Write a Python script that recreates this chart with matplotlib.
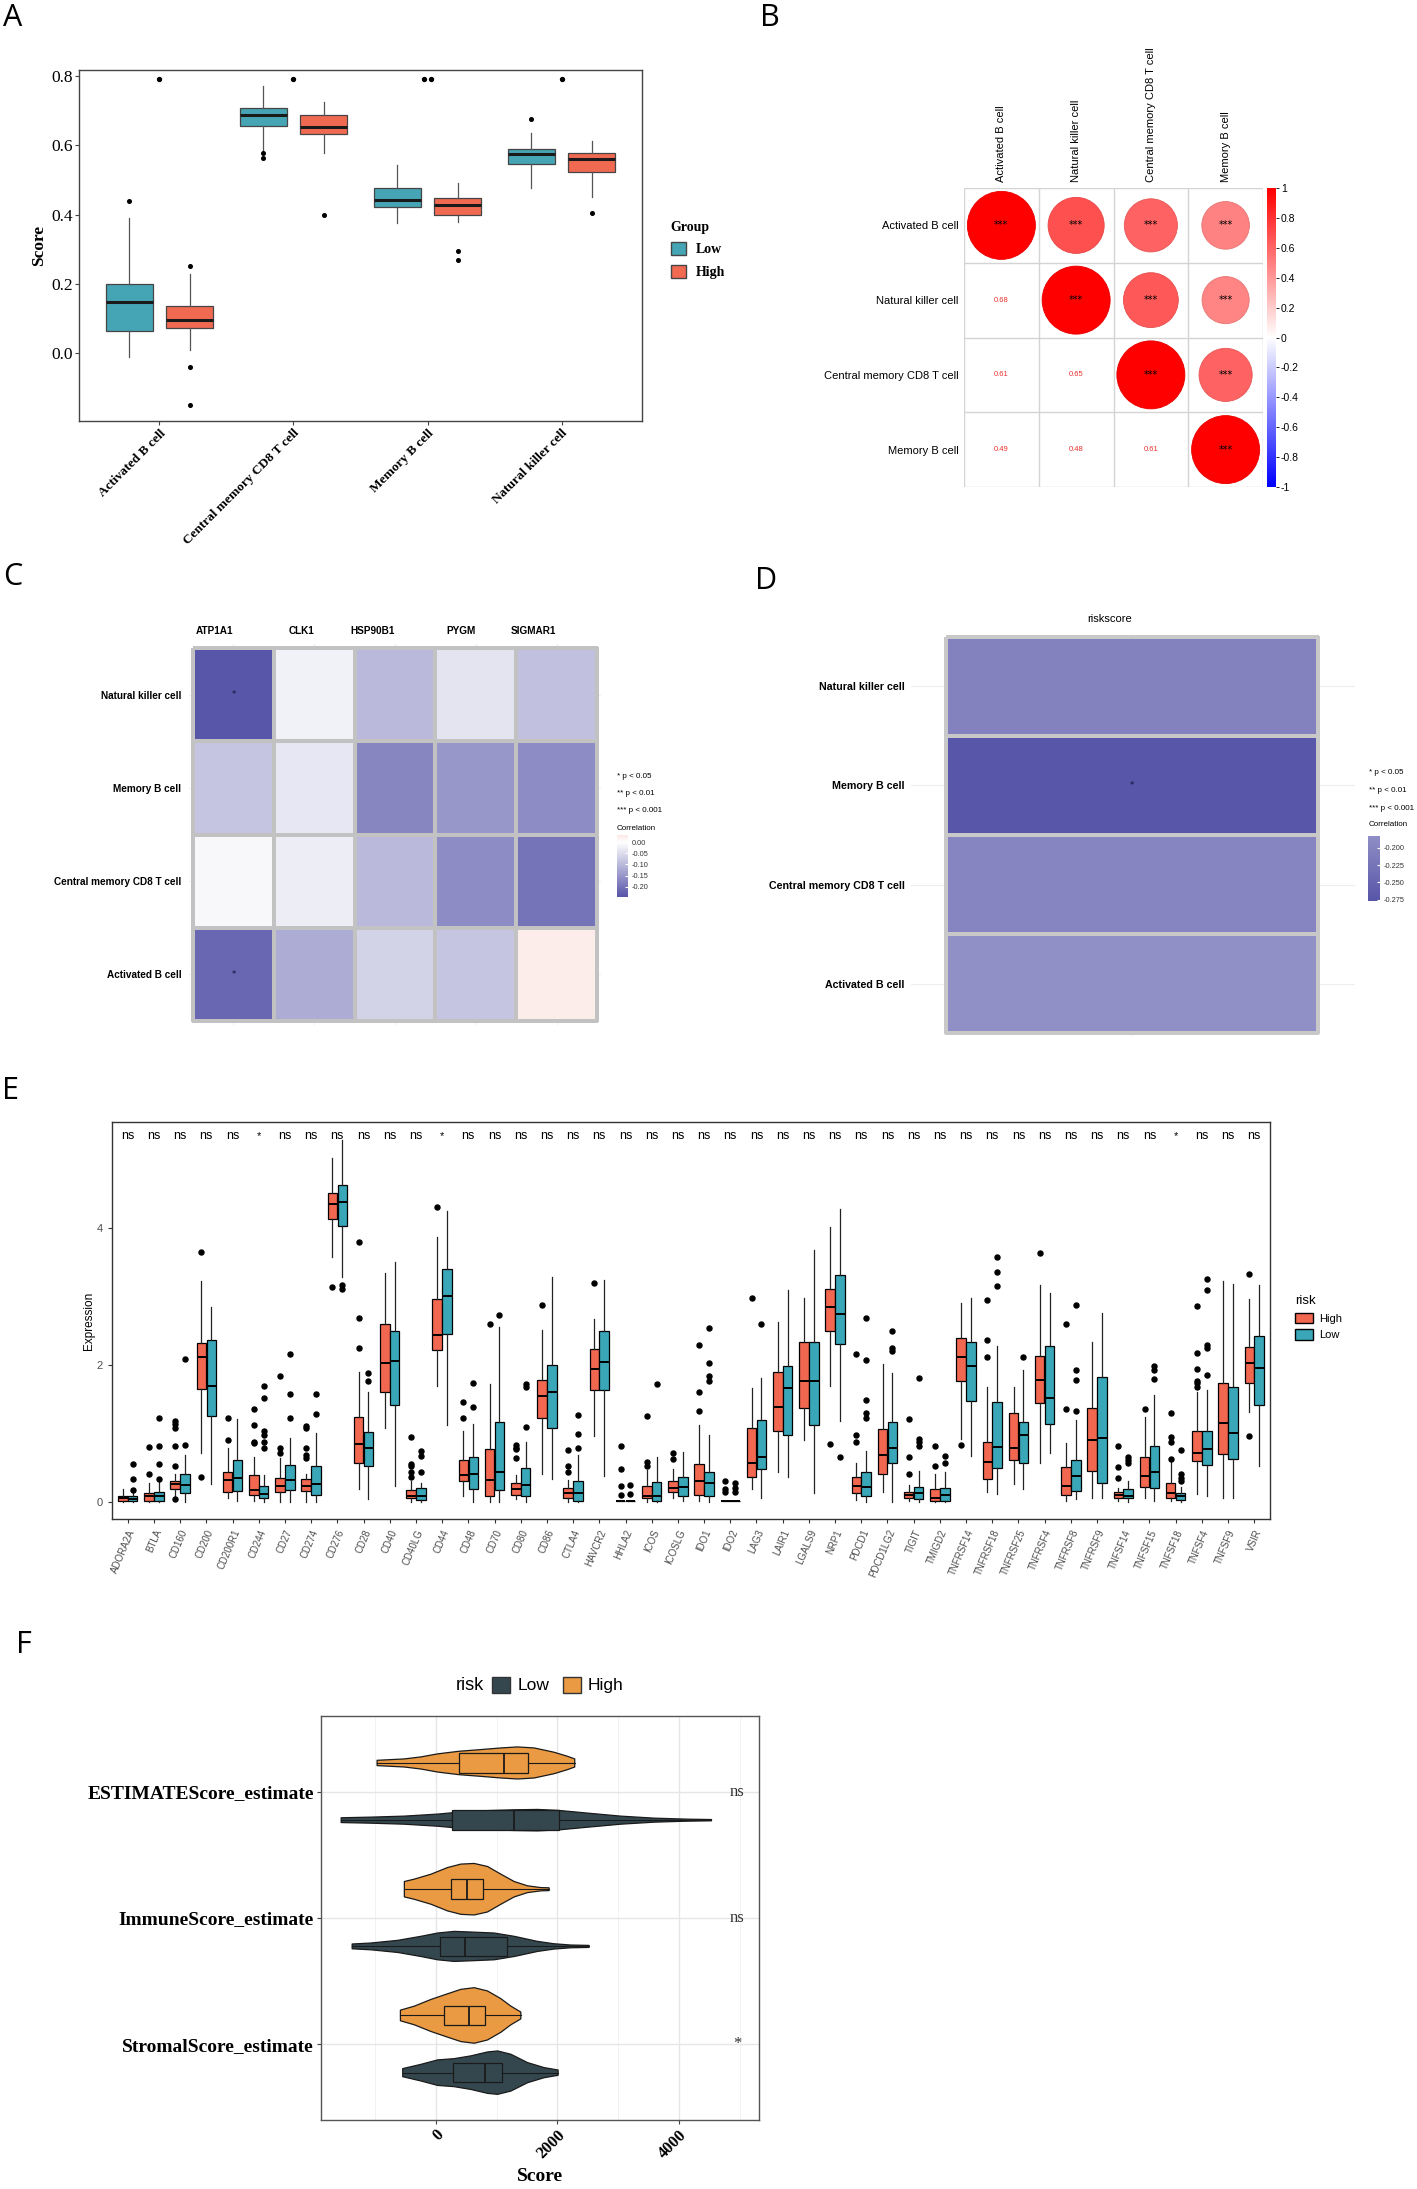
import numpy as np
import matplotlib
matplotlib.use("Agg")
import matplotlib.pyplot as plt
from matplotlib.patches import Ellipse, Patch
from matplotlib.colors import LinearSegmentedColormap, Normalize

# ------------------------------------------------------------------ data
# Panel A
cellsA = ["Activated B cell", "Central memory CD8 T cell", "Memory B cell", "Natural killer cell"]
A_low_lo = [-0.010, 0.582, 0.377, 0.476]
A_low_q1 = [0.064, 0.655, 0.423, 0.545]
A_low_med = [0.148, 0.687, 0.441, 0.574]
A_low_q3 = [0.200, 0.707, 0.476, 0.589]
A_low_hi = [0.389, 0.771, 0.543, 0.635]
A_low_out = [[0.439], [0.577, 0.562], [], [0.676]]
A_high_lo = [0.010, 0.577, 0.380, 0.452]
A_high_q1 = [0.073, 0.632, 0.399, 0.522]
A_high_med = [0.096, 0.654, 0.428, 0.559]
A_high_q3 = [0.137, 0.686, 0.448, 0.579]
A_high_hi = [0.229, 0.726, 0.492, 0.612]
A_high_out = [[0.253, -0.038, -0.149], [0.399], [0.294, 0.268], [0.404]]
A_top_marks = [1, 1, 2, 1]
A_top_value = 0.79

# Panel B
cellsB = ["Activated B cell", "Natural killer cell", "Central memory CD8 T cell", "Memory B cell"]
corrB = [[1.00, 0.68, 0.61, 0.49],
         [0.68, 1.00, 0.65, 0.48],
         [0.61, 0.65, 1.00, 0.61],
         [0.49, 0.48, 0.61, 1.00]]
sigB = "***"

# Panel C
genesC = ["ATP1A1", "CLK1", "HSP90B1", "PYGM", "SIGMAR1"]
cellsC = ["Natural killer cell", "Memory B cell", "Central memory CD8 T cell", "Activated B cell"]
corrC = [[-0.245, -0.020, -0.100, -0.040, -0.090],
         [-0.085, -0.035, -0.175, -0.150, -0.165],
         [-0.010, -0.025, -0.100, -0.165, -0.200],
         [-0.220, -0.120, -0.065, -0.085, 0.030]]
sigC = [["*", "", "", "", ""], ["", "", "", "", ""], ["", "", "", "", ""], ["*", "", "", "", ""]]

# Panel D
cellsD = ["Natural killer cell", "Memory B cell", "Central memory CD8 T cell", "Activated B cell"]
corrD = [-0.205, -0.277, -0.200, -0.183]
sigD = ["", "*", "", ""]
legend_p = ["* p < 0.05", "** p < 0.01", "*** p < 0.001"]

# Panel E
genesE = ["ADORA2A", "BTLA", "CD160", "CD200", "CD200R1", "CD244", "CD27", "CD274", "CD276", "CD28",
          "CD40", "CD40LG", "CD44", "CD48", "CD70", "CD80", "CD86", "CTLA4", "HAVCR2", "HHLA2",
          "ICOS", "ICOSLG", "IDO1", "IDO2", "LAG3", "LAIR1", "LGALS9", "NRP1", "PDCD1", "PDCD1LG2",
          "TIGIT", "TMIGD2", "TNFRSF14", "TNFRSF18", "TNFRSF25", "TNFRSF4", "TNFRSF8", "TNFRSF9", "TNFSF14", "TNFSF15",
          "TNFSF18", "TNFSF4", "TNFSF9", "VSIR"]
sigE = ["ns", "ns", "ns", "ns", "ns", "*", "ns", "ns", "ns", "ns",
        "ns", "ns", "*", "ns", "ns", "ns", "ns", "ns", "ns", "ns",
        "ns", "ns", "ns", "ns", "ns", "ns", "ns", "ns", "ns", "ns",
        "ns", "ns", "ns", "ns", "ns", "ns", "ns", "ns", "ns", "ns",
        "*", "ns", "ns", "ns"]
E_high_lo = [0.00, 0.00, 0.09, 0.72, 0.05, 0.02, 0.00, 0.00, 3.58, 0.19,
             1.08, 0.00, 1.69, 0.09, 0.00, 0.04, 0.40, 0.00, 0.96, 0.02,
             0.00, 0.06, 0.02, 0.02, 0.19, 0.43, 0.91, 1.69, 0.03, 0.14,
             0.02, 0.00, 0.92, 0.15, 0.26, 0.57, 0.02, 0.06, 0.02, 0.06,
             0.02, 0.11, 0.06, 1.31]
E_high_q1 = [0.02, 0.02, 0.19, 1.65, 0.14, 0.10, 0.14, 0.16, 4.13, 0.57,
             1.61, 0.05, 2.22, 0.30, 0.09, 0.10, 1.23, 0.06, 1.63, 0.02,
             0.05, 0.14, 0.10, 0.02, 0.36, 1.04, 1.37, 2.50, 0.13, 0.41,
             0.05, 0.01, 1.77, 0.34, 0.61, 1.44, 0.10, 0.45, 0.05, 0.22,
             0.06, 0.60, 0.70, 1.74]
E_high_med = [0.05, 0.08, 0.26, 2.11, 0.32, 0.18, 0.23, 0.23, 4.35, 0.84,
              2.03, 0.08, 2.44, 0.39, 0.32, 0.19, 1.55, 0.13, 1.94, 0.02,
              0.08, 0.20, 0.30, 0.02, 0.57, 1.39, 1.76, 2.85, 0.23, 0.68,
              0.10, 0.05, 2.11, 0.58, 0.79, 1.78, 0.23, 0.91, 0.10, 0.38,
              0.13, 0.72, 1.15, 2.03]
E_high_q3 = [0.08, 0.13, 0.31, 2.32, 0.44, 0.39, 0.35, 0.33, 4.51, 1.24,
             2.60, 0.17, 2.96, 0.61, 0.77, 0.27, 1.78, 0.20, 2.23, 0.02,
             0.23, 0.30, 0.56, 0.02, 1.08, 1.90, 2.33, 3.11, 0.36, 1.07,
             0.14, 0.19, 2.39, 0.88, 1.30, 2.13, 0.51, 1.37, 0.14, 0.66,
             0.27, 1.03, 1.74, 2.26]
E_high_hi = [0.19, 0.27, 0.40, 3.22, 0.79, 0.65, 0.64, 0.40, 5.02, 1.90,
             3.34, 0.30, 3.86, 1.03, 1.72, 0.39, 2.51, 0.32, 2.67, 0.02,
             0.46, 0.48, 1.12, 0.02, 1.66, 2.63, 2.97, 4.01, 0.57, 2.01,
             0.25, 0.41, 2.90, 1.68, 1.68, 3.16, 0.86, 2.33, 0.20, 1.24,
             0.58, 1.61, 3.23, 2.96]
E_high_out = [[], [0.40, 0.80], [1.18, 1.13, 1.08, 0.81, 0.53, 0.04], [3.65, 0.36], [1.22, 0.91],
              [1.35, 1.12, 0.88, 0.86], [1.84, 0.78, 0.72], [1.11, 1.08, 0.78, 0.69, 0.64], [3.13], [3.79, 2.69, 2.24],
              [], [0.94, 0.56, 0.52, 0.44, 0.36], [4.31], [1.46, 1.22], [2.59],
              [0.83, 0.79, 0.77, 0.64], [2.87], [0.76, 0.53, 0.43], [3.19], [0.81, 0.48, 0.23, 0.10],
              [1.25, 0.58, 0.53], [0.72, 0.62], [2.29, 1.60, 1.32], [0.31, 0.19, 0.14], [2.97],
              [], [], [0.84], [2.16, 0.98, 0.87], [],
              [1.21, 0.66, 0.41], [0.81, 0.53], [0.83], [2.95, 2.37, 2.11], [],
              [3.63], [2.59, 1.36], [], [0.82, 0.51, 0.35], [1.35],
              [1.30, 0.95, 0.88, 0.63], [2.86, 2.17, 1.94, 1.77, 1.73, 1.68], [], [3.32, 0.96]]
E_low_lo = [0.00, 0.00, 0.00, 0.26, 0.01, 0.00, 0.00, 0.00, 3.28, 0.04,
            0.23, 0.00, 1.12, 0.00, 0.00, 0.00, 0.33, 0.00, 0.38, 0.02,
            0.00, 0.02, 0.00, 0.02, 0.05, 0.37, 0.13, 1.18, 0.00, 0.00,
            0.00, 0.00, 0.67, 0.11, 0.19, 0.71, 0.04, 0.06, 0.00, 0.02,
            0.00, 0.09, 0.05, 0.52]
E_low_q1 = [0.01, 0.02, 0.13, 1.25, 0.16, 0.05, 0.18, 0.10, 4.03, 0.52,
            1.41, 0.03, 2.45, 0.19, 0.18, 0.09, 1.08, 0.02, 1.63, 0.02,
            0.02, 0.08, 0.08, 0.02, 0.48, 0.98, 1.12, 2.31, 0.09, 0.57,
            0.04, 0.02, 1.47, 0.50, 0.57, 1.14, 0.16, 0.28, 0.05, 0.20,
            0.03, 0.54, 0.63, 1.42]
E_low_med = [0.04, 0.09, 0.25, 1.69, 0.35, 0.11, 0.32, 0.26, 4.38, 0.78,
             2.05, 0.09, 3.01, 0.41, 0.44, 0.25, 1.61, 0.13, 2.04, 0.02,
             0.09, 0.21, 0.28, 0.02, 0.66, 1.66, 1.76, 2.74, 0.21, 0.79,
             0.13, 0.10, 1.98, 0.80, 0.98, 1.52, 0.38, 0.93, 0.09, 0.43,
             0.08, 0.77, 1.01, 1.96]
E_low_q3 = [0.08, 0.15, 0.41, 2.37, 0.61, 0.23, 0.54, 0.52, 4.63, 1.02,
            2.50, 0.20, 3.40, 0.65, 1.16, 0.49, 2.00, 0.30, 2.49, 0.02,
            0.29, 0.36, 0.44, 0.02, 1.19, 1.98, 2.33, 3.31, 0.43, 1.17,
            0.22, 0.20, 2.34, 1.46, 1.17, 2.27, 0.61, 1.82, 0.19, 0.82,
            0.13, 1.04, 1.68, 2.42]
E_low_hi = [0.15, 0.30, 0.69, 2.85, 1.21, 0.39, 0.93, 1.00, 5.28, 1.60,
            3.50, 0.27, 4.25, 1.13, 2.55, 0.88, 3.28, 0.69, 3.24, 0.02,
            0.65, 0.73, 0.98, 0.02, 1.81, 3.10, 3.67, 4.27, 0.74, 1.88,
            0.45, 0.44, 2.98, 2.28, 1.92, 3.05, 1.19, 2.76, 0.31, 1.56,
            0.21, 1.63, 3.18, 3.16]
E_low_out = [[0.56, 0.34, 0.17], [1.22, 0.81, 0.56, 0.34], [2.09, 0.83], [], [],
             [1.69, 1.51, 1.04, 0.98, 0.88, 0.79], [2.16, 1.57, 1.22], [1.58, 1.28], [3.16, 3.11], [1.88, 1.77],
             [], [0.74, 0.67, 0.43], [], [1.74, 1.38], [2.73],
             [1.72, 1.68, 1.09], [], [1.27, 0.99, 0.78], [], [0.25, 0.11],
             [1.72], [], [2.54, 2.02, 1.84, 1.76], [0.27, 0.20, 0.15], [2.60],
             [], [], [0.66], [2.68, 2.07, 1.48, 1.30, 1.22], [2.49, 2.25, 2.20],
             [1.81, 0.92, 0.87, 0.81], [0.67, 0.57], [], [3.58, 3.36, 3.15], [2.11],
             [], [2.88, 1.93, 1.78, 1.32], [], [0.65, 0.61, 0.57], [1.98, 1.93, 1.79],
             [0.76, 0.40, 0.35, 0.30], [3.25, 3.09, 2.29, 2.24, 1.85], [], []]

# Panel F  (violin outlines: score values and half-widths in category units)
F_cats = ["ESTIMATEScore_estimate", "ImmuneScore_estimate", "StromalScore_estimate"]
F_sig = ["ns", "ns", "*"]
F_high_scores = [[-970, -521, -247, 27, 384, 740, 1069, 1343, 1617, 1945, 2165, 2285],
                 [-521, -356, -82, 192, 411, 630, 849, 1069, 1288, 1507, 1726, 1863],
                 [-586, -356, -82, 192, 411, 630, 849, 1069, 1233, 1397]]
F_high_half = [[0.021, 0.032, 0.048, 0.072, 0.093, 0.106, 0.119, 0.127, 0.119, 0.085, 0.053, 0.032],
               [0.061, 0.080, 0.119, 0.172, 0.199, 0.204, 0.180, 0.119, 0.061, 0.027, 0.013, 0.011],
               [0.042, 0.074, 0.127, 0.172, 0.207, 0.220, 0.194, 0.133, 0.074, 0.027]]
F_low_scores = [[-1562, -1069, -521, 27, 575, 1288, 1671, 2028, 2493, 3041, 3589, 4137, 4537],
                [-1381, -1069, -630, -247, 27, 301, 575, 959, 1288, 1671, 1945, 2219, 2521],
                [-548, -247, 27, 301, 575, 849, 1014, 1233, 1507, 1781, 2011]]
F_low_half = [[0.019, 0.024, 0.032, 0.048, 0.072, 0.082, 0.085, 0.077, 0.056, 0.032, 0.016, 0.008, 0.005],
              [0.019, 0.027, 0.048, 0.080, 0.106, 0.119, 0.114, 0.106, 0.080, 0.040, 0.021, 0.011, 0.008],
              [0.032, 0.066, 0.101, 0.111, 0.133, 0.164, 0.172, 0.146, 0.080, 0.040, 0.021]]
F_high_q1 = [384, 247, 126]
F_high_med = [1112, 504, 548]
F_high_q3 = [1518, 767, 806]
F_low_q1 = [263, 66, 285]
F_low_med = [1288, 477, 806]
F_low_q3 = [2028, 1162, 1080]

# ------------------------------------------------------------------ setup
W, H = 1417, 2189
fig = plt.figure(figsize=(W / 100, H / 100), dpi=100)
fig.patch.set_facecolor("white")


def rect(l, t, r, b):
    return [l / W, 1 - b / H, (r - l) / W, (b - t) / H]


SANS = "Liberation Sans"
SERIF = "Liberation Serif"

TEAL_A, RED_A = "#46A5B5", "#F06A52"
RED_E, TEAL_E = "#F2674F", "#3AA7B9"
DARK_F, ORANGE_F = "#34474F", "#EA9A42"

for letter, (lx, ly) in {"A": (3, 3), "B": (760, 3), "C": (3, 562), "D": (755, 566),
                         "E": (2, 1076), "F": (16, 1630)}.items():
    fig.text(lx / W, 1 - ly / H, letter, fontsize=22, family="Open Sans", va="top", ha="left")


def mkstats(lo, q1, med, q3, hi, out):
    return [dict(whislo=a, q1=b, med=c, q3=d, whishi=e, fliers=np.array(f, dtype=float))
            for a, b, c, d, e, f in zip(lo, q1, med, q3, hi, out)]


# ------------------------------------------------------------------ Panel A
axA = fig.add_axes(rect(79, 70, 642, 421))
posA = np.arange(1, len(cellsA) + 1)
for st, off, col in [(mkstats(A_low_lo, A_low_q1, A_low_med, A_low_q3, A_low_hi, A_low_out), -0.225, TEAL_A),
                     (mkstats(A_high_lo, A_high_q1, A_high_med, A_high_q3, A_high_hi, A_high_out), 0.225, RED_A)]:
    axA.bxp(st, positions=posA + off, widths=0.35, patch_artist=True, showcaps=False, manage_ticks=False,
            boxprops=dict(facecolor=col, edgecolor="#454545", linewidth=0.9),
            medianprops=dict(color="#1a1a1a", linewidth=2.2),
            whiskerprops=dict(color="#555555", linewidth=0.9),
            flierprops=dict(marker="o", markersize=2.6, markerfacecolor="black",
                            markeredgecolor="black", linestyle="none"))
for k, n in enumerate(A_top_marks):
    xs = posA[k] + (np.arange(n) - (n - 1) / 2) * 0.05
    axA.scatter(xs, [A_top_value] * n, s=8, color="black", zorder=3)
axA.set_xlim(0.4, 4.6)
axA.set_ylim(-0.195, 0.817)
axA.set_yticks([0.0, 0.2, 0.4, 0.6, 0.8])
axA.set_yticklabels(["0.0", "0.2", "0.4", "0.6", "0.8"], family=SERIF, fontsize=12.5)
axA.set_xticks(posA)
axA.set_xticklabels(cellsA, rotation=45, ha="right", va="top", rotation_mode="anchor",
                    family=SERIF, fontsize=9.5, weight="bold")
axA.tick_params(length=3, width=0.8, color="#444444", pad=1.5)
for s in axA.spines.values():
    s.set_color("#444444")
    s.set_linewidth(1.0)
axA.set_ylabel("Score", family=SERIF, fontsize=12.5, weight="bold")
axA.yaxis.set_label_coords(-0.057, 0.5)
legA = fig.legend([Patch(facecolor=TEAL_A, edgecolor="#454545"), Patch(facecolor=RED_A, edgecolor="#454545")],
                  ["Low", "High"], title="Group", loc="upper left", bbox_to_anchor=(658 / W, 1 - 208 / H),
                  frameon=False, prop=dict(family=SERIF, weight="bold", size=10),
                  title_fontproperties=dict(family=SERIF, weight="bold", size=10),
                  handlelength=1.15, handleheight=1.1, handletextpad=0.7, labelspacing=0.6)
legA._legend_box.align = "left"

# ------------------------------------------------------------------ Panel B
cmapB = LinearSegmentedColormap.from_list("bwr_corr", ["#0000FF", "#FFFFFF", "#FF0000"])
normB = Normalize(-1, 1)
axB = fig.add_axes(rect(964, 188, 1263, 487))
nB = len(cellsB)
axB.set_xlim(0, nB)
axB.set_ylim(nB, 0)
for i in range(nB):
    for j in range(nB):
        r = corrB[i][j]
        if j >= i:
            d = 0.91 * np.sqrt(abs(r))
            fc = np.array(cmapB(normB(r)))
            ec = fc.copy()
            ec[:3] *= 0.9
            axB.add_patch(Ellipse((j + 0.5, i + 0.5), d, d, facecolor=fc, edgecolor=ec, linewidth=0.6))
            axB.text(j + 0.5, i + 0.5, sigB, ha="center", va="center", fontsize=7, color="black")
        else:
            axB.text(j + 0.5, i + 0.5, f"{r:.2f}", ha="center", va="center", fontsize=5.5,
                     color="#E83030", family=SANS)
for k in range(nB + 1):
    axB.axhline(k, color="#D4D4D4", linewidth=1.0, zorder=0)
    axB.axvline(k, color="#D4D4D4", linewidth=1.0, zorder=0)
for s in axB.spines.values():
    s.set_visible(False)
axB.xaxis.tick_top()
axB.set_xticks(np.arange(nB) + 0.5)
axB.set_xticklabels(cellsB, rotation=90, family=SANS, fontsize=8, va="bottom")
axB.set_yticks(np.arange(nB) + 0.5)
axB.set_yticklabels(cellsB, family=SANS, fontsize=8)
axB.tick_params(length=0, pad=4)

axBc = fig.add_axes(rect(1267, 188, 1276, 487))
grad = np.linspace(1, -1, 256)[:, None]
axBc.imshow(grad, cmap=cmapB, norm=normB, aspect="auto", extent=[0, 1, -1, 1])
axBc.set_xticks([])
tB = np.round(np.arange(1, -1.01, -0.2), 1)
axBc.yaxis.tick_right()
axBc.set_yticks(tB)
axBc.set_yticklabels([f"{v:g}" for v in tB], family=SANS, fontsize=7.5)
axBc.tick_params(axis="y", length=2.5, width=0.6, pad=1)
for s in axBc.spines.values():
    s.set_visible(False)

# ------------------------------------------------------------------ Panels C & D colour scale
cmapCD = LinearSegmentedColormap.from_list("grad2", ["#5856A9", "#FFFFFF", "#E8604F"])


def side_legend(x, y_first, bar_rect, lo, hi, ticks, labels, norm):
    for k, txt in enumerate(legend_p):
        fig.text(x / W, 1 - (y_first + 17.5 * k) / H, txt, fontsize=5.8, family=SANS, va="center", ha="left")
    fig.text(x / W, 1 - (y_first + 52) / H, "Correlation", fontsize=5.8, family=SANS, va="center", ha="left")
    axc = fig.add_axes(rect(*bar_rect))
    g = np.linspace(hi, lo, 200)[:, None]
    axc.imshow(g, cmap=cmapCD, norm=norm, aspect="auto", extent=[0, 1, lo, hi])
    axc.set_xticks([])
    axc.yaxis.tick_right()
    axc.set_yticks(ticks)
    axc.set_yticklabels(labels, family=SANS, fontsize=5.3, color="#333333")
    axc.tick_params(axis="y", length=2, direction="in", color="white", pad=2.5)
    for s in axc.spines.values():
        s.set_visible(False)


# ------------------------------------------------------------------ Panel C
C_arr = np.array(corrC)
mC = np.abs(C_arr).max()
normC = Normalize(-mC, mC)
axC = fig.add_axes(rect(189, 644, 601, 1025))
nCr, nCc = C_arr.shape
axC.pcolormesh(np.arange(nCc + 1) - 0.5, np.arange(nCr + 1) - 0.5, C_arr, cmap=cmapCD, norm=normC,
               edgecolors="#C2C2C2", linewidth=1.6)
for i in range(nCr):
    for j in range(nCc):
        if sigC[i][j]:
            axC.text(j, i, sigC[i][j], ha="center", va="center", fontsize=6, color="#111133")
axC.set_xlim(-0.55, nCc - 0.5 + 0.05)
axC.set_ylim(nCr - 0.5 + 0.043, -0.5 - 0.043)
axC.set_xticks(range(nCc))
axC.set_yticks(range(nCr))
axC.grid(True, color="#EEEEEE", linewidth=0.8)
axC.set_axisbelow(True)
axC.xaxis.tick_top()
axC.set_xticklabels(genesC, ha="right", family=SANS, weight="bold", fontsize=7.2)
axC.set_yticklabels(cellsC, family=SANS, weight="bold", fontsize=7.2)
axC.tick_params(axis="x", length=0, pad=5.5)
axC.tick_params(axis="y", length=0, pad=5.5)
for s in axC.spines.values():
    s.set_visible(False)
side_legend(617, 776, (617, 835, 628, 897), C_arr.min() - 0.002, C_arr.max() + 0.003,
            [0.0, -0.05, -0.10, -0.15, -0.20], ["0.00", "-0.05", "-0.10", "-0.15", "-0.20"], normC)

# ------------------------------------------------------------------ Panel D
D_arr = np.array(corrD)[:, None]
mD = np.abs(D_arr).max()
normD = Normalize(-mD, mD)
axD = fig.add_axes(rect(911, 634, 1355, 1036))
nDr = len(cellsD)
axD.pcolormesh([-0.5, 0.5], np.arange(nDr + 1) - 0.5, D_arr, cmap=cmapCD, norm=normD,
               edgecolors="#C8C8C8", linewidth=1.6)
for i in range(nDr):
    if sigD[i]:
        axD.text(0, i, sigD[i], ha="center", va="center", fontsize=6, color="#111133")
axD.set_xlim(-0.594, 0.599)
axD.set_ylim(nDr - 0.5 + 0.03, -0.5 - 0.03)
axD.set_xticks([0])
axD.set_yticks(range(nDr))
axD.grid(True, color="#EEEEEE", linewidth=0.8)
axD.set_axisbelow(True)
axD.xaxis.tick_top()
axD.set_xticklabels(["riskscore"], ha="right", family=SANS, fontsize=8)
axD.set_yticklabels(cellsD, family=SANS, weight="bold", fontsize=7.7)
axD.tick_params(axis="x", length=0, pad=7.5)
axD.tick_params(axis="y", length=0, pad=4.6)
for s in axD.spines.values():
    s.set_visible(False)
side_legend(1369, 773, (1368, 836, 1380, 901), D_arr.min(), D_arr.max(),
            [-0.200, -0.225, -0.250, -0.275], ["-0.200", "-0.225", "-0.250", "-0.275"], normD)

# ------------------------------------------------------------------ Panel E
axE = fig.add_axes(rect(112, 1122, 1270, 1519))
posE = np.arange(1, len(genesE) + 1)
for st, off, col in [(mkstats(E_high_lo, E_high_q1, E_high_med, E_high_q3, E_high_hi, E_high_out), -0.1875, RED_E),
                     (mkstats(E_low_lo, E_low_q1, E_low_med, E_low_q3, E_low_hi, E_low_out), 0.1875, TEAL_E)]:
    axE.bxp(st, positions=posE + off, widths=0.36, patch_artist=True, showcaps=False, manage_ticks=False,
            boxprops=dict(facecolor=col, edgecolor="black", linewidth=0.9),
            medianprops=dict(color="black", linewidth=1.4),
            whiskerprops=dict(color="#222222", linewidth=0.9),
            flierprops=dict(marker="o", markersize=3.6, markerfacecolor="black",
                            markeredgecolor="black", linestyle="none"))
for p, s in zip(posE, sigE):
    axE.text(p, 5.34, s, ha="center", va="center", fontsize=9 if s == "ns" else 8, family=SANS)
axE.set_xlim(0.4, len(genesE) + 0.6)
axE.set_ylim(-0.25, 5.545)
axE.set_yticks([0, 2, 4])
axE.set_yticklabels(["0", "2", "4"], family=SANS, fontsize=8, color="#4D4D4D")
axE.set_xticks(posE)
axE.set_xticklabels(genesE, rotation=67, ha="right", va="top", rotation_mode="anchor",
                    family=SANS, fontsize=7, color="#4D4D4D")
axE.tick_params(length=3, width=0.8, color="#333333")
for s in axE.spines.values():
    s.set_color("#333333")
    s.set_linewidth(1.0)
axE.set_ylabel("Expression", family=SANS, fontsize=8.5)
axE.yaxis.set_label_coords(-0.015, 0.5)
legE = fig.legend([Patch(facecolor=RED_E, edgecolor="black"), Patch(facecolor=TEAL_E, edgecolor="black")],
                  ["High", "Low"], title="risk", loc="upper left", bbox_to_anchor=(1285 / W, 1 - 1285 / H),
                  frameon=False, prop=dict(family=SANS, size=8),
                  title_fontproperties=dict(family=SANS, size=9.5),
                  handlelength=1.6, handleheight=1.1, handletextpad=0.6, labelspacing=0.5)
legE._legend_box.align = "left"

# ------------------------------------------------------------------ Panel F
axF = fig.add_axes(rect(321, 1716, 759, 2120))
nF = len(F_cats)
yF = np.arange(nF, 0, -1).astype(float)
axF.set_xticks([0, 2000, 4000])
axF.set_xticks([-1000, 1000, 3000, 5000], minor=True)
axF.grid(True, which="major", color="#E6E6E6", linewidth=1.0)
axF.grid(True, which="minor", axis="x", color="#F2F2F2", linewidth=0.7)
axF.set_axisbelow(True)
for k in range(nF):
    for scores, half, off, col, q1, med, q3 in [
            (F_high_scores[k], F_high_half[k], 0.228, ORANGE_F, F_high_q1[k], F_high_med[k], F_high_q3[k]),
            (F_low_scores[k], F_low_half[k], -0.225, DARK_F, F_low_q1[k], F_low_med[k], F_low_q3[k])]:
        c = yF[k] + off
        xs = np.array(scores, dtype=float)
        hw = np.array(half)
        axF.fill(np.concatenate([xs, xs[::-1]]), np.concatenate([c + hw, (c - hw)[::-1]]),
                 facecolor=col, edgecolor="#1a1a1a", linewidth=0.9, joinstyle="round", zorder=2)
        axF.bxp([dict(whislo=xs.min(), q1=q1, med=med, q3=q3, whishi=xs.max(), fliers=np.array([]))],
                positions=[c], widths=0.155, orientation="horizontal", patch_artist=True, showcaps=False,
                manage_ticks=False, zorder=3,
                boxprops=dict(facecolor=col, edgecolor="#1a1a1a", linewidth=0.9),
                medianprops=dict(color="#1a1a1a", linewidth=1.3),
                whiskerprops=dict(color="#1a1a1a", linewidth=0.8))
    axF.text(4960, yF[k], F_sig[k], ha="center", va="center", family=SERIF, fontsize=12,
             color="#333333")
axF.set_xlim(-1894, 5320)
axF.set_ylim(0.4, nF + 0.6)
axF.set_yticks(yF)
axF.set_yticklabels(F_cats, family=SERIF, weight="bold", fontsize=14)
axF.set_xticklabels(["0", "2000", "4000"], rotation=45, ha="right", va="top", rotation_mode="anchor",
                    family=SERIF, weight="bold", fontsize=12)
axF.tick_params(which="major", length=3, width=0.8, color="#444444", pad=2)
axF.tick_params(which="minor", length=0)
for s in axF.spines.values():
    s.set_color("#555555")
    s.set_linewidth(1.0)
axF.set_xlabel("Score", family=SERIF, weight="bold", fontsize=14)
axF.xaxis.set_label_coords(0.5, -0.118)
fig.text(456 / W, 1 - 1685 / H, "risk", family=SANS, fontsize=13, va="center", ha="left")
fig.legend([Patch(facecolor=DARK_F, edgecolor="#333333"), Patch(facecolor=ORANGE_F, edgecolor="#333333")],
           ["Low", "High"], ncol=2, loc="center left", bbox_to_anchor=(492 / W, 1 - 1685 / H),
           frameon=False, prop=dict(family=SANS, size=12.5), handlelength=1.05, handleheight=1.05,
           handletextpad=0.4, columnspacing=0.8, borderaxespad=0, borderpad=0)

fig.savefig("out.png", dpi=100)
